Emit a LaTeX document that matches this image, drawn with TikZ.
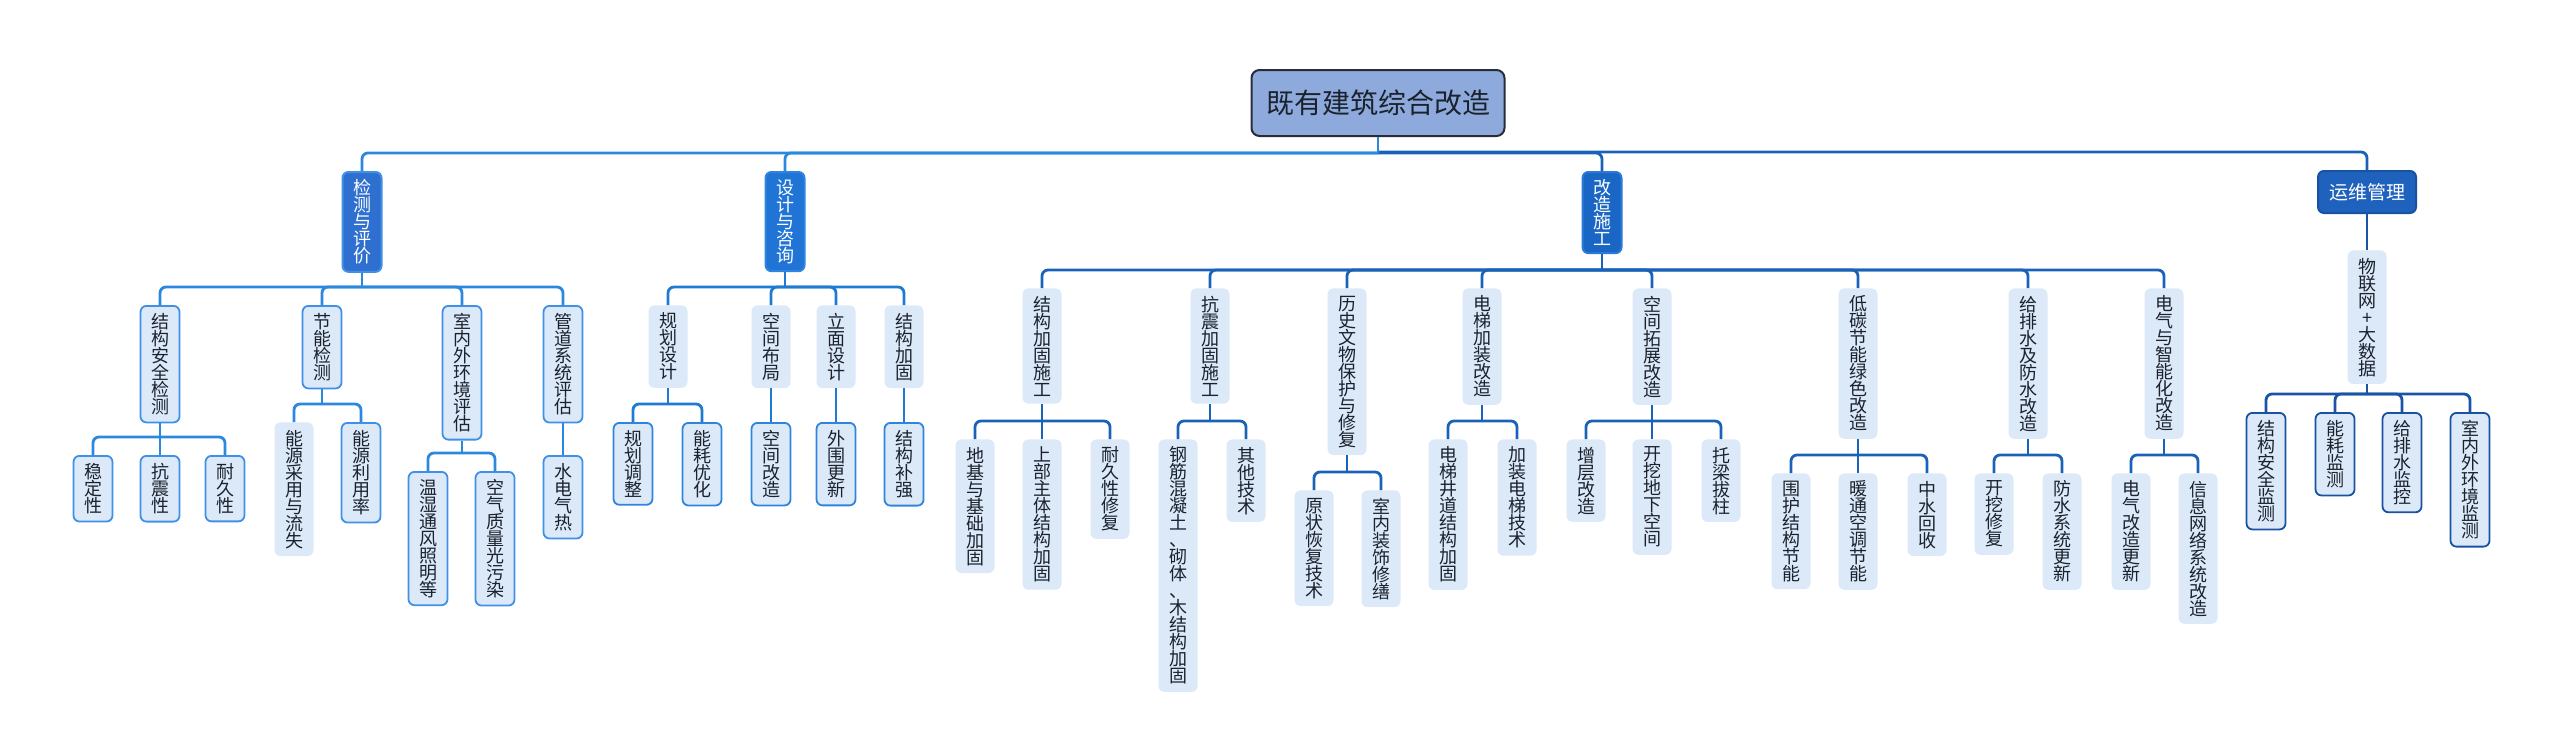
\documentclass[tikz,border=0pt]{standalone}
\usepackage{fontspec}
\newfontfamily\cjk{Noto Sans CJK SC}
\usetikzlibrary{calc}

\definecolor{rootfill}{HTML}{8EAADC}
\definecolor{rootedge}{HTML}{262C38}
\definecolor{itemfill}{HTML}{DCE9F8}
\definecolor{ink}{HTML}{1A222E}
\definecolor{jcfill}{HTML}{2F6FCF}
\definecolor{jcedge}{HTML}{3F90E6}
\definecolor{jcline}{HTML}{2B88DE}
\definecolor{sjfill}{HTML}{1F74D6}
\definecolor{sjedge}{HTML}{2F84DE}
\definecolor{sjline}{HTML}{1F7AD2}
\definecolor{gzfill}{HTML}{1A66C4}
\definecolor{gzedge}{HTML}{2A7AD6}
\definecolor{gzline}{HTML}{1A62B8}
\definecolor{ywfill}{HTML}{1F62BE}
\definecolor{ywedge}{HTML}{1A52A2}
\definecolor{ywline}{HTML}{1A55A5}

\newcommand{\vfont}{\cjk\fontsize{9}{8.5}\selectfont\lineskiplimit=-3pt}

\begin{document}
\begin{tikzpicture}[
    x=0.5pt, y=-0.5pt,
    rootbox/.style={draw=rootedge, fill=rootfill, line width=1pt, rounded corners=4pt,
                    text=ink, font=\cjk\fontsize{14}{16}\selectfont,
                    minimum width=126.5pt, minimum height=33pt},
    headbox/.style={draw, line width=1pt, rounded corners=3pt, text=white, font=\vfont,
                    align=center, minimum width=19.5pt, inner xsep=1pt, inner ysep=3.75pt,
                    anchor=north},
    itembox/.style={fill=itemfill, rounded corners=3pt, text=ink, font=\vfont,
                    align=center, minimum width=19.5pt, inner xsep=1pt, inner ysep=3.75pt,
                    anchor=north},
    leafbox/.style={itembox, draw, line width=0.9pt},
    link/.style={line width=1.4pt, rounded corners=3pt},
  ]
  \useasboundingbox (0,0) rectangle (2560,755);

  \node[rootbox] (root) at (1378,103) {既有建筑综合改造};

  % level 1
  \node[headbox, fill=jcfill, draw=jcedge] (jc) at (362,171) {检\\测\\与\\评\\价};
  \node[headbox, fill=sjfill, draw=sjedge] (sj) at (785,171) {设\\计\\与\\咨\\询};
  \node[headbox, fill=gzfill, draw=gzedge] (gz) at (1602,171) {改\\造\\施\\工};
  \node[headbox, fill=ywfill, draw=ywedge, font=\cjk\fontsize{9.5}{10}\selectfont,
        minimum width=49pt, minimum height=21pt] (yw) at (2367,170) {运维管理};

  % 检测与评价
  \node[leafbox, draw=jcedge] (jc1) at (160,305) {结\\构\\安\\全\\检\\测};
  \node[leafbox, draw=jcedge] (jc2) at (322,305) {节\\能\\检\\测};
  \node[leafbox, draw=jcedge] (jc3) at (462,305) {室\\内\\外\\环\\境\\评\\估};
  \node[leafbox, draw=jcedge] (jc4) at (563,305) {管\\道\\系\\统\\评\\估};
  \node[leafbox, draw=jcedge] (jc1a) at (93,455) {稳\\定\\性};
  \node[leafbox, draw=jcedge] (jc1b) at (160,455) {抗\\震\\性};
  \node[leafbox, draw=jcedge] (jc1c) at (225,455) {耐\\久\\性};
  \node[itembox] (jc2a) at (294,422) {能\\源\\采\\用\\与\\流\\失};
  \node[leafbox, draw=jcedge] (jc2b) at (361,422) {能\\源\\利\\用\\率};
  \node[leafbox, draw=jcedge] (jc3a) at (428,471) {温\\湿\\通\\风\\照\\明\\等};
  \node[leafbox, draw=jcedge] (jc3b) at (495,471) {空\\气\\质\\量\\光\\污\\染};
  \node[leafbox, draw=jcedge] (jc4a) at (563,455) {水\\电\\气\\热};

  % 设计与咨询
  \node[itembox] (sj1) at (668,305) {规\\划\\设\\计};
  \node[itembox] (sj2) at (771,305) {空\\间\\布\\局};
  \node[itembox] (sj3) at (836,305) {立\\面\\设\\计};
  \node[itembox] (sj4) at (904,305) {结\\构\\加\\固};
  \node[leafbox, draw=sjedge] (sj1a) at (633,422) {规\\划\\调\\整};
  \node[leafbox, draw=sjedge] (sj1b) at (702,422) {能\\耗\\优\\化};
  \node[leafbox, draw=sjedge] (sj2a) at (771,422) {空\\间\\改\\造};
  \node[leafbox, draw=sjedge] (sj3a) at (836,422) {外\\围\\更\\新};
  \node[leafbox, draw=sjedge] (sj4a) at (904,422) {结\\构\\补\\强};

  % 改造施工
  \node[itembox] (gz1) at (1042,288) {结\\构\\加\\固\\施\\工};
  \node[itembox] (gz2) at (1210,288) {抗\\震\\加\\固\\施\\工};
  \node[itembox] (gz3) at (1347,288) {历\\史\\文\\物\\保\\护\\与\\修\\复};
  \node[itembox] (gz4) at (1482,288) {电\\梯\\加\\装\\改\\造};
  \node[itembox] (gz5) at (1652,288) {空\\间\\拓\\展\\改\\造};
  \node[itembox] (gz6) at (1858,288) {低\\碳\\节\\能\\绿\\色\\改\\造};
  \node[itembox] (gz7) at (2028,288) {给\\排\\水\\及\\防\\水\\改\\造};
  \node[itembox] (gz8) at (2164,288) {电\\气\\与\\智\\能\\化\\改\\造};
  \node[itembox] (gz1a) at (975,439) {地\\基\\与\\基\\础\\加\\固};
  \node[itembox] (gz1b) at (1042,439) {上\\部\\主\\体\\结\\构\\加\\固};
  \node[itembox] (gz1c) at (1110,439) {耐\\久\\性\\修\\复};
  \node[itembox] (gz2a) at (1178,439) {钢\\筋\\混\\凝\\土\\、\\砌\\体\\、\\木\\结\\构\\加\\固};
  \node[itembox] (gz2b) at (1246,439) {其\\他\\技\\术};
  \node[itembox] (gz3a) at (1314,490) {原\\状\\恢\\复\\技\\术};
  \node[itembox] (gz3b) at (1381,490) {室\\内\\装\\饰\\修\\缮};
  \node[itembox] (gz4a) at (1448,439) {电\\梯\\井\\道\\结\\构\\加\\固};
  \node[itembox] (gz4b) at (1517,439) {加\\装\\电\\梯\\技\\术};
  \node[itembox] (gz5a) at (1586,439) {增\\层\\改\\造};
  \node[itembox] (gz5b) at (1652,439) {开\\挖\\地\\下\\空\\间};
  \node[itembox] (gz5c) at (1721,439) {托\\梁\\拔\\柱};
  \node[itembox] (gz6a) at (1791,473) {围\\护\\结\\构\\节\\能};
  \node[itembox] (gz6b) at (1858,473) {暖\\通\\空\\调\\节\\能};
  \node[itembox] (gz6c) at (1927,473) {中\\水\\回\\收};
  \node[itembox] (gz7a) at (1994,473) {开\\挖\\修\\复};
  \node[itembox] (gz7b) at (2062,473) {防\\水\\系\\统\\更\\新};
  \node[itembox] (gz8a) at (2131,473) {电\\气\\改\\造\\更\\新};
  \node[itembox] (gz8b) at (2198,473) {信\\息\\网\\络\\系\\统\\改\\造};

  % 运维管理
  \node[itembox] (yw1) at (2367,250) {物\\联\\网\\+\\大\\数\\据};
  \node[leafbox, draw=ywedge] (yw1a) at (2266,412) {结\\构\\安\\全\\监\\测};
  \node[leafbox, draw=ywedge] (yw1b) at (2335,412) {能\\耗\\监\\测};
  \node[leafbox, draw=ywedge] (yw1c) at (2402,412) {给\\排\\水\\监\\控};
  \node[leafbox, draw=ywedge] (yw1d) at (2470,412) {室\\内\\外\\环\\境\\监\\测};

  % tree links: stem from parent, then along the bus and down to each child
  \foreach \p/\kids/\col in {
      root/{gz,yw}/gzline, root/{sj,jc}/jcline,
      jc/{jc1,jc2,jc3,jc4}/jcline, jc1/{jc1a,jc1b,jc1c}/jcline,
      jc2/{jc2a,jc2b}/jcline, jc3/{jc3a,jc3b}/jcline, jc4/{jc4a}/jcline,
      sj/{sj1,sj2,sj3,sj4}/sjline, sj1/{sj1a,sj1b}/sjline, sj2/{sj2a}/sjline,
      sj3/{sj3a}/sjline, sj4/{sj4a}/sjline,
      gz/{gz1,gz2,gz3,gz4,gz5,gz6,gz7,gz8}/gzline, gz1/{gz1a,gz1b,gz1c}/gzline,
      gz2/{gz2a,gz2b}/gzline, gz3/{gz3a,gz3b}/gzline, gz4/{gz4a,gz4b}/gzline,
      gz5/{gz5a,gz5b,gz5c}/gzline, gz6/{gz6a,gz6b,gz6c}/gzline,
      gz7/{gz7a,gz7b}/gzline, gz8/{gz8a,gz8b}/gzline,
      yw/{yw1}/ywline, yw1/{yw1a,yw1b,yw1c,yw1d}/ywline}
    \foreach \c in \kids {
      \draw[link, \col] (\p.south) -- ($(\p.south |- \c.north)+(0,-18)$);
      \draw[link, \col] ($(\p.south |- \c.north)+(0,-18)$) -| (\c.north);
    };
\end{tikzpicture}
\end{document}
